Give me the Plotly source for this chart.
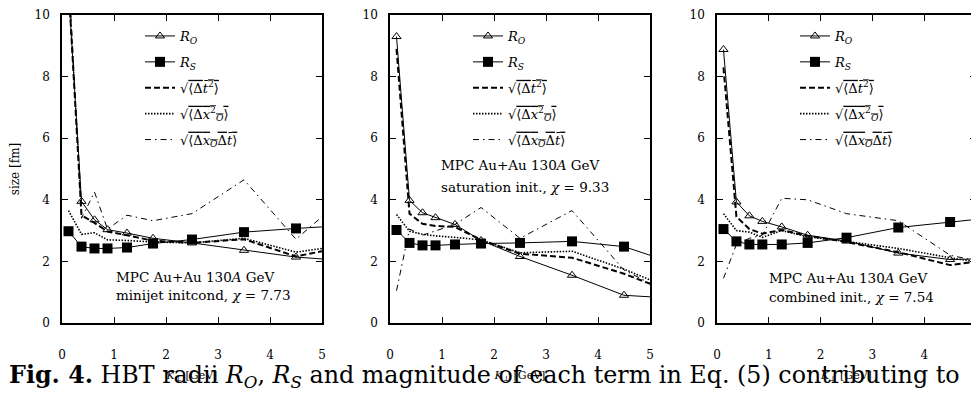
import plotly.graph_objects as go

# ---------------- data ----------------
kt = [0.125, 0.375, 0.625, 0.875, 1.25, 1.75, 2.5, 3.5, 4.5, 5.5]

# panel 1: minijet initcond
p1_RO = [10.8, 3.95, 3.35, 3.03, 2.92, 2.75, 2.60, 2.36, 2.14, 2.02]
p1_RS = [2.98, 2.48, 2.42, 2.42, 2.45, 2.58, 2.71, 2.95, 3.07, 3.17]
p1_dt = [11.0, 3.50, 3.25, 2.97, 2.85, 2.67, 2.60, 2.72, 2.16, 2.50]
p1_dx = [3.65, 2.88, 2.93, 2.70, 2.68, 2.63, 2.60, 2.75, 2.30, 2.54]
p1_dxdt = [11.5, 3.40, 4.25, 3.05, 3.50, 3.32, 3.55, 4.65, 2.72, 4.18]

# panel 2: saturation init
p2_RO = [9.30, 3.98, 3.58, 3.42, 3.20, 2.68, 2.16, 1.55, 0.90, 0.80]
p2_RS = [3.02, 2.60, 2.52, 2.52, 2.55, 2.58, 2.60, 2.65, 2.48, 1.92]
p2_dt = [8.90, 3.55, 3.22, 3.15, 3.12, 2.70, 2.25, 2.12, 1.60, 0.95]
p2_dx = [3.52, 2.98, 2.88, 2.83, 2.78, 2.70, 2.28, 2.33, 1.75, 1.05]
p2_dxdt = [1.05, 3.05, 2.85, 3.00, 3.20, 3.75, 2.75, 3.65, 1.72, 0.86]

# panel 3: combined init
p3_RO = [8.88, 3.93, 3.48, 3.30, 3.12, 2.85, 2.66, 2.27, 2.06, 2.10]
p3_RS = [3.05, 2.65, 2.55, 2.55, 2.55, 2.60, 2.77, 3.10, 3.28, 3.45]
p3_dt = [8.30, 3.45, 3.05, 2.90, 3.02, 2.83, 2.63, 2.30, 1.88, 2.10]
p3_dx = [3.55, 3.00, 2.95, 2.78, 3.00, 2.80, 2.65, 2.42, 2.12, 1.85]
p3_dxdt = [1.45, 2.55, 2.75, 2.85, 4.05, 4.00, 3.55, 3.32, 2.20, 1.85]

panels = [
    (p1_RO, p1_RS, p1_dt, p1_dx, p1_dxdt),
    (p2_RO, p2_RS, p2_dt, p2_dx, p2_dxdt),
    (p3_RO, p3_RS, p3_dt, p3_dx, p3_dxdt),
]
panel_text = [
    ("MPC Au+Au 130<i>A</i> GeV", "minijet initcond, <i>χ</i> = 7.73"),
    ("MPC Au+Au 130<i>A</i> GeV", "saturation init., <i>χ</i> = 9.33"),
    ("MPC Au+Au 130<i>A</i> GeV", "combined init., <i>χ</i> = 7.54"),
]
xticks = [0, 1, 2, 3, 4, 5]
yticks = [0, 2, 4, 6, 8, 10]

names = [
    "<i>R<sub>O</sub></i>",
    "<i>R<sub>S</sub></i>",
    "√<span style='text-decoration:overline'>⟨Δ<i>t\u0304</i><sup>2</sup>⟩</span>",
    "√<span style='text-decoration:overline'>⟨Δ<i>x</i><sup>2</sup><sub><i>O</i></sub>⟩</span>",
    "√<span style='text-decoration:overline'>⟨Δ<i>x<sub>O</sub></i>Δ<i>t\u0304</i>⟩</span>",
]

# ---------------- layout geometry ----------------
OFF = 8                          # page body margin
W, H = 979 - OFF, 401 - 2 * OFF  # figure size (no scrollbars)
xdom_px = [(62 - OFF, 322 - OFF), (390 - OFF, 650 - OFF), (717 - OFF, 976 - OFF)]
ytop, ybot = 15 - OFF, 323 - OFF
FONT = "DejaVu Serif"

fig = go.Figure()

for i, series in enumerate(panels):
    ax = "" if i == 0 else str(i + 1)
    xa, ya = "x" + ax, "y" + ax
    lg = "legend" + ax
    styles = [
        dict(mode="lines+markers", line=dict(color="black", width=1),
             marker=dict(symbol="triangle-up-open", size=8, color="black", line=dict(width=1))),
        dict(mode="lines+markers", line=dict(color="black", width=1),
             marker=dict(symbol="square", size=10, color="black")),
        dict(mode="lines", line=dict(color="black", width=2, dash="6px,3px")),
        dict(mode="lines", line=dict(color="black", width=1.6, dash="1.5px,1.5px")),
        dict(mode="lines", line=dict(color="black", width=1, dash="6px,4px,1.5px,4px")),
    ]
    for j, (ys, st) in enumerate(zip(series, styles)):
        fig.add_trace(go.Scatter(x=kt, y=ys, xaxis=xa, yaxis=ya, name=names[j],
                                 legend=lg, legendgroup=f"p{i}s{j}", showlegend=True,
                                 cliponaxis=True, **st))

    x0, x1 = xdom_px[i]
    axis_common = dict(showline=True, linecolor="black", linewidth=1.5, mirror="ticks",
                       ticks="inside", ticklen=6, tickwidth=1.2, tickcolor="black",
                       showgrid=False, zeroline=False, automargin=False,
                       tickfont=dict(family=FONT, size=12, color="black"))
    fig.update_layout(**{
        "xaxis" + ax: dict(domain=[x0 / W, x1 / W], range=[0, 5], tickvals=xticks,
                           ticklabelstandoff=20, anchor=ya,
                           title=dict(text="<i>K</i><sub>⊥</sub> [GeV]", standoff=10,
                                      font=dict(family=FONT, size=11, color="black")),
                           **axis_common),
        "yaxis" + ax: dict(domain=[1 - ybot / H, 1 - ytop / H], range=[0, 10], tickvals=yticks,
                           ticklabelstandoff=8, anchor=xa,
                           title=dict(text="size [fm]" if i == 0 else "", standoff=12,
                                      font=dict(family=FONT, size=12, color="black")),
                           **axis_common),
        lg: dict(x=(x0 + 78) / W, y=1 - (21 - OFF) / H, xanchor="left", yanchor="top",
                 bgcolor="rgba(0,0,0,0)", borderwidth=0, tracegroupgap=6,
                 itemwidth=30, font=dict(family=FONT, size=13, color="black")),
    })

    l1, l2 = panel_text[i]
    ty = [(1.49, 0.91), (5.13, 4.42), (1.46, 0.84)][i]
    tx = [1.0, 0.94, 0.96][i]
    for txt, yy in zip((l1, l2), ty):
        fig.add_annotation(x=tx, y=yy, xref=xa, yref=ya, text=txt, showarrow=False,
                           xanchor="left", yanchor="middle",
                           font=dict(family=FONT, size=13.5, color="black"))

fig.add_annotation(
    x=-1 / W, y=1 - (376 - OFF) / H, xref="paper", yref="paper", xanchor="left", yanchor="middle",
    text="<b>Fig. 4.</b> HBT radii <i>R<sub>O</sub></i>, <i>R<sub>S</sub></i> and magnitude of each term in Eq. (5) contributing to",
    showarrow=False, font=dict(family=FONT, size=23.8, color="black"))

fig.update_layout(template="none", width=W, height=H, margin=dict(l=0, r=0, t=0, b=0),
                  paper_bgcolor="white", plot_bgcolor="white")

fig.write_html("out.html")
